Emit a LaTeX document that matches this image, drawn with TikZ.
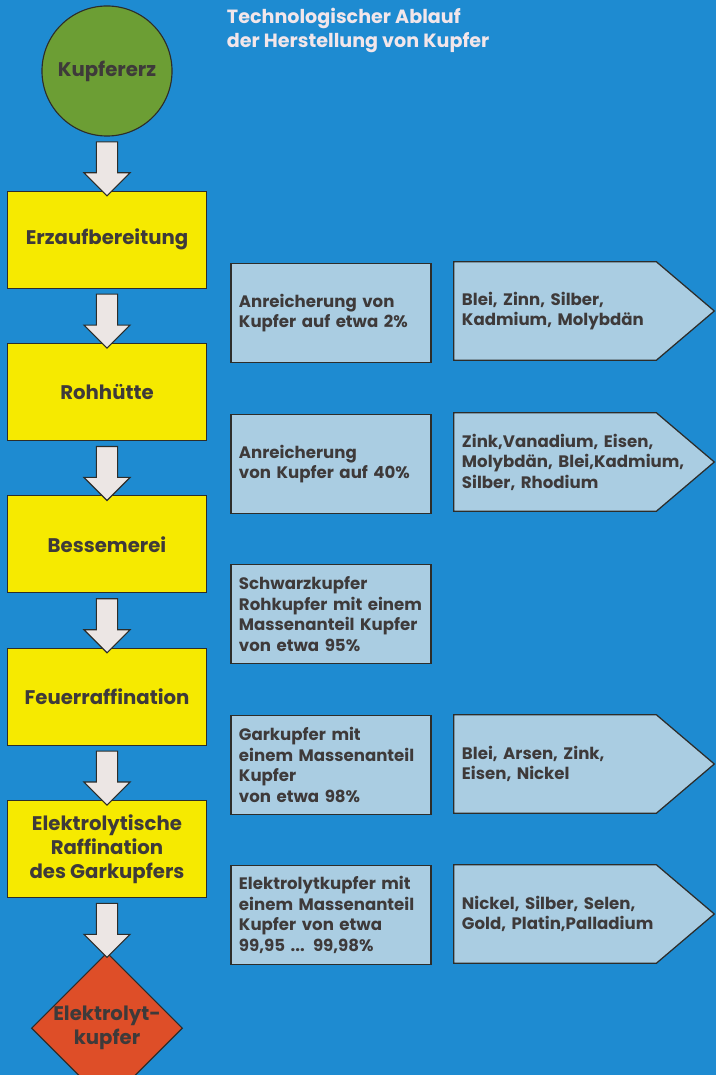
\documentclass[tikz,border=0pt]{standalone}
\usepackage{fontspec}
\setmainfont{Poppins}
\usetikzlibrary{positioning,shapes.geometric,shapes.arrows,backgrounds}

\definecolor{bgblue}{RGB}{30,139,209}
\definecolor{oregreen}{RGB}{108,158,52}
\definecolor{stepyellow}{RGB}{246,234,0}
\definecolor{infoblue}{RGB}{170,205,226}
\definecolor{finalred}{RGB}{222,78,40}
\definecolor{arrowwhite}{RGB}{236,230,228}
\definecolor{ink}{RGB}{62,58,58}
\definecolor{edge}{RGB}{45,45,42}
\definecolor{titlepink}{RGB}{242,230,234}

\tikzset{
  boxfont/.style={font=\fontsize{14}{17}\selectfont\bfseries, text=ink},
  infofont/.style={font=\fontsize{11.8}{14.6}\selectfont\bfseries, text=ink},
  startnode/.style={circle, draw=edge, line width=0.8pt, fill=oregreen, minimum size=3.25cm, inner sep=0pt, boxfont},
  stepbox/.style={draw=edge, line width=0.9pt, fill=stepyellow, minimum width=4.975cm, minimum height=2.425cm, align=center, boxfont},
  endnode/.style={diamond, draw=edge, line width=0.8pt, fill=finalred, minimum width=3.75cm, minimum height=3.2cm, inner sep=0pt, align=center, boxfont},
  infobox/.style={draw=edge, line width=0.9pt, fill=infoblue, text width=4.6cm, inner xsep=0.2cm, minimum height=2.475cm, align=left, infofont},
  restbox/.style={text width=6.1cm, inner xsep=0.2cm, minimum height=2.45cm, align=left, infofont},
  restedge/.style={draw=edge, line width=0.9pt, fill=infoblue},
  blockarrow/.style={single arrow, draw=edge, line width=0.8pt, fill=arrowwhite, minimum width=1.125cm, single arrow head extend=0.3125cm, minimum height=1.35cm, inner xsep=0pt, inner ysep=0.25cm, rotate=-90}
}

\begin{document}
\begin{tikzpicture}[x=0.025cm,y=-0.025cm]
\useasboundingbox (0,0) rectangle (716,1075);
\begin{scope}[on background layer]
\fill[bgblue] (0,0) rectangle (716,1075);
\end{scope}

% title
\node[anchor=north west, align=left, text=titlepink, font=\fontsize{13.6}{17.5}\selectfont\bfseries] (title) at (222,3) {Technologischer Ablauf\\der Herstellung von Kupfer};

% main flow
\node[startnode] (erz) at (107,71) {Kupfererz};
\node[stepbox, below=1.35cm of erz] (aufb) {Erzaufbereitung};
\node[stepbox, below=1.35cm of aufb] (rohh) {Rohhütte};
\node[stepbox, below=1.35cm of rohh] (bess) {Bessemerei};
\node[stepbox, below=1.35cm of bess] (feuer) {Feuerraffination};
\node[stepbox, below=1.35cm of feuer] (elyt) {Elektrolytische\\Raffination\\des Garkupfers};
\node[endnode, below=1.35cm of elyt] (kupfer) {Elektrolyt-\\kupfer};

\foreach \a/\b in {erz/aufb, aufb/rohh, rohh/bess, bess/feuer, feuer/elyt, elyt/kupfer}
  \path (\a.south) -- (\b.north) node[midway, blockarrow] {};

% copper content
\node[infobox] (gehalt1) at (331,313) {Anreicherung von\\Kupfer auf etwa 2\%};
\node[infobox] (gehalt2) at (331,464) {Anreicherung\\von Kupfer auf 40\%};
\node[infobox] (gehalt3) at (331,614) {Schwarzkupfer\\Rohkupfer mit einem\\Massenanteil Kupfer\\von etwa 95\%};
\node[infobox] (gehalt4) at (331,765) {Garkupfer mit\\einem Massenanteil\\Kupfer\\von etwa 98\%};
\node[infobox] (gehalt5) at (331,915) {Elektrolytkupfer mit\\einem Massenanteil\\Kupfer von etwa\\99,95 ... 99,98\%};

% by-products
\node[restbox] (rest1) at (584,311) {Blei, Zinn, Silber,\\Kadmium, Molybdän};
\node[restbox] (rest2) at (584,462) {Zink,Vanadium, Eisen,\\Molybdän, Blei,Kadmium,\\Silber, Rhodium};
\node[restbox] (rest4) at (584,764) {Blei, Arsen, Zink,\\Eisen, Nickel};
\node[restbox] (rest5) at (584,914) {Nickel, Silber, Selen,\\Gold, Platin,Palladium};

\begin{scope}[on background layer]
\foreach \r in {rest1, rest2, rest4, rest5}
  \draw[restedge] (\r.north west) -- ([xshift=-1.45cm]\r.north east) -- (\r.east)
    -- ([xshift=-1.45cm]\r.south east) -- (\r.south west) -- cycle;
\end{scope}
\end{tikzpicture}
\end{document}
